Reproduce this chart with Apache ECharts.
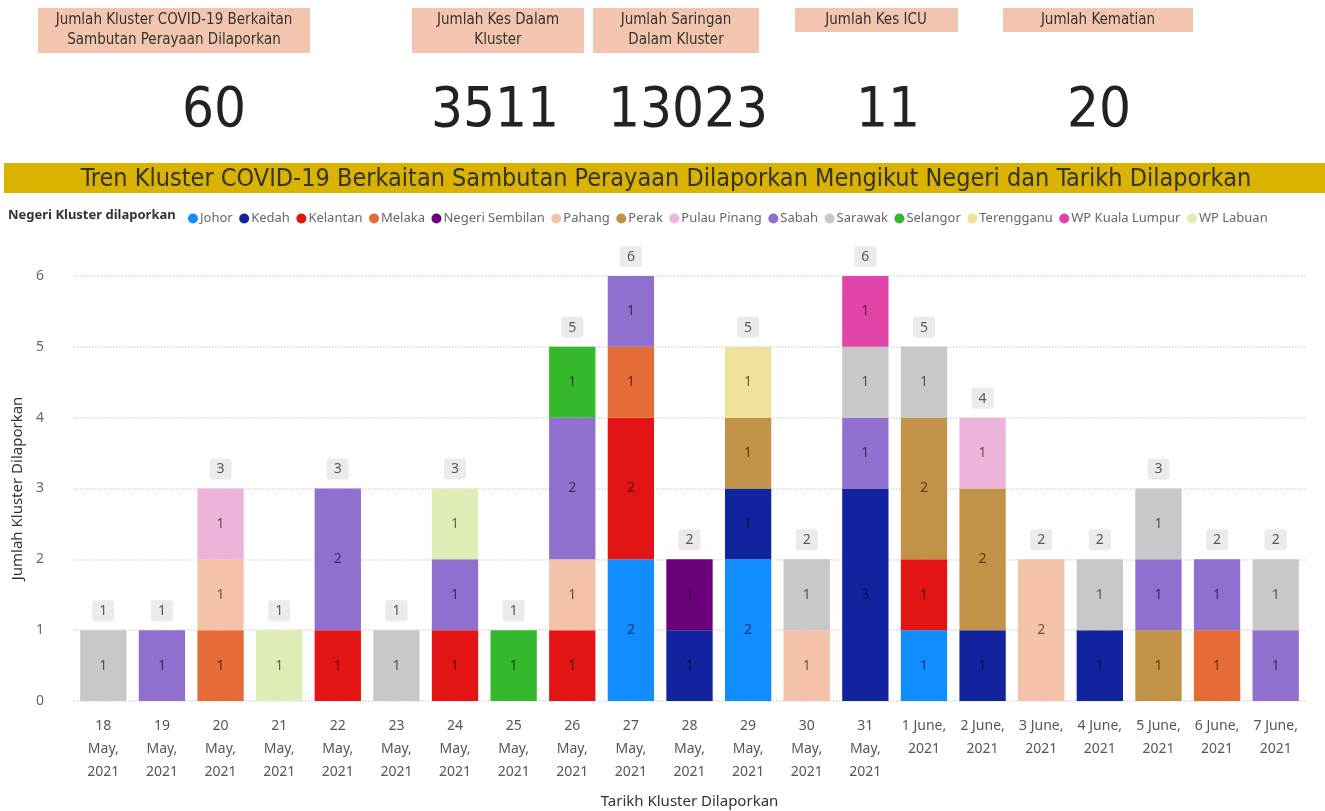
<!DOCTYPE html>
<html>
<head>
<meta charset="utf-8">
<script src="https://cdn.jsdelivr.net/npm/echarts@6/dist/echarts.min.js"></script>
<style>
html,body{margin:0;padding:0;background:#fff;}
#chart{width:1325px;height:811px;}
</style>
</head>
<body>
<div id="chart"></div>
<script>
// ---- data ----
const categories = ["18\nMay,\n2021","19\nMay,\n2021","20\nMay,\n2021","21\nMay,\n2021","22\nMay,\n2021","23\nMay,\n2021","24\nMay,\n2021","25\nMay,\n2021","26\nMay,\n2021","27\nMay,\n2021","28\nMay,\n2021","29\nMay,\n2021","30\nMay,\n2021","31\nMay,\n2021","1 June,\n2021","2 June,\n2021","3 June,\n2021","4 June,\n2021","5 June,\n2021","6 June,\n2021","7 June,\n2021"];
const seriesNames = ["Johor","Kedah","Kelantan","Melaka","Negeri Sembilan","Pahang","Perak","Pulau Pinang","Sabah","Sarawak","Selangor","Terengganu","WP Kuala Lumpur","WP Labuan"];
const johor        = [0,0,0,0,0,0,0,0,0,2,0,2,0,0,1,0,0,0,0,0,0];
const kedah        = [0,0,0,0,0,0,0,0,0,0,1,1,0,3,0,1,0,1,0,0,0];
const kelantan     = [0,0,0,0,1,0,1,0,1,2,0,0,0,0,1,0,0,0,0,0,0];
const melaka       = [0,0,1,0,0,0,0,0,0,1,0,0,0,0,0,0,0,0,0,1,0];
const negeriSembilan=[0,0,0,0,0,0,0,0,0,0,1,0,0,0,0,0,0,0,0,0,0];
const pahang       = [0,0,1,0,0,0,0,0,1,0,0,0,1,0,0,0,2,0,0,0,0];
const perak        = [0,0,0,0,0,0,0,0,0,0,0,1,0,0,2,2,0,0,1,0,0];
const pulauPinang  = [0,0,1,0,0,0,0,0,0,0,0,0,0,0,0,1,0,0,0,0,0];
const sabah        = [0,1,0,0,2,0,1,0,2,1,0,0,0,1,0,0,0,0,1,1,1];
const sarawak      = [1,0,0,0,0,1,0,0,0,0,0,0,1,1,1,0,0,1,1,0,1];
const selangor     = [0,0,0,0,0,0,0,1,1,0,0,0,0,0,0,0,0,0,0,0,0];
const terengganu   = [0,0,0,0,0,0,0,0,0,0,0,1,0,0,0,0,0,0,0,0,0];
const wpKualaLumpur= [0,0,0,0,0,0,0,0,0,0,0,0,0,1,0,0,0,0,0,0,0];
const wpLabuan     = [0,0,0,1,0,0,1,0,0,0,0,0,0,0,0,0,0,0,0,0,0];
const kpiLabels = ["Jumlah Kluster COVID-19 Berkaitan\nSambutan Perayaan Dilaporkan","Jumlah Kes Dalam\nKluster","Jumlah Saringan\nDalam Kluster","Jumlah Kes ICU","Jumlah Kematian"];
const kpiValues = ["60","3511","13023","11","20"];
const yTicks = [0,1,2,3,4,5,6];

// ---- styles ----
const allValues = [johor,kedah,kelantan,melaka,negeriSembilan,pahang,perak,pulauPinang,sabah,sarawak,selangor,terengganu,wpKualaLumpur,wpLabuan];
const colors = ["#118DFF","#12239E","#E31414","#E66C37","#6B007B","#F4C2A9","#C39249","#EEB3D9","#9070CE","#C8C8C8","#35B82B","#F2E09D","#E044A7","#DEEDB6"];
const narrow = "'Liberation Sans Narrow','DejaVu Sans Condensed',sans-serif";
const uiFont = "'Noto Sans','Open Sans',sans-serif";

const totals = categories.map((c,i)=>allValues.reduce((s,a)=>s+a[i],0));

const series = seriesNames.map((n,k)=>({
  name:n, type:'bar', stack:'all', barCategoryGap:'21%',
  itemStyle:{color:colors[k]},
  data: allValues[k].map(v=>v===0?null:v),
  label:{show:true, position:'inside', color:'rgba(0,0,0,0.6)', fontSize:14, fontFamily:uiFont}
}));
series.push({
  name:'Total', type:'scatter', symbolSize:0, data:totals, silent:true,
  label:{show:true, position:'top', distance:9, formatter:p=>p.value, backgroundColor:'#E6E6E6',
    borderRadius:3, padding:[4,7,3,7], color:'#333', fontSize:14, fontFamily:uiFont}
});

// KPI cards
const cards = [
  {x:38,w:272,h:45,cx:174,vx:214},
  {x:412,w:172,h:45,cx:498,vx:495},
  {x:593,w:166,h:45,cx:676,vx:688},
  {x:795,w:163,h:24,cx:876,vx:888},
  {x:1003,w:190,h:24,cx:1098,vx:1099}
];
const graphics = [];
cards.forEach((c,i)=>{
  graphics.push({type:'rect', shape:{x:c.x,y:8,width:c.w,height:c.h}, style:{fill:'#F3C4AE'}});
  graphics.push({type:'text', x:c.cx, y:8+c.h/2, style:{text:kpiLabels[i], align:'center', verticalAlign:'middle',
    font:"15px "+narrow, fill:'#333', lineHeight:20}});
  graphics.push({type:'text', x:c.vx, y:111, style:{text:kpiValues[i], align:'center', verticalAlign:'middle',
    font:"56px "+narrow, fill:'#222'}});
});
graphics.push({type:'rect', shape:{x:4,y:163,width:1321,height:30}, style:{fill:'#DAB200'}});
graphics.push({type:'text', x:666, y:179, style:{text:'Tren Kluster COVID-19 Berkaitan Sambutan Perayaan Dilaporkan Mengikut Negeri dan Tarikh Dilaporkan',
  align:'center', verticalAlign:'middle', font:"25px "+narrow, fill:'#333'}});
graphics.push({type:'text', x:8, y:215, style:{text:'Negeri Kluster dilaporkan', align:'left', verticalAlign:'middle',
  font:"bold 13px "+uiFont, fill:'#333'}});

const chart = echarts.init(document.getElementById('chart'));
chart.setOption({
  animation:false,
  textStyle:{fontFamily:uiFont},
  graphic:graphics,
  legend:{data:seriesNames, left:183, top:207, icon:'circle', itemWidth:10, itemHeight:10, itemGap:6.5,
    textStyle:{fontSize:13, color:'#666', fontFamily:uiFont, padding:[0,0,0,-3]}},
  grid:{left:74, right:20, top:276, bottom:110, outerBoundsMode:'none', containLabel:false},
  xAxis:{type:'category', data:categories, axisLine:{show:false}, axisTick:{show:false},
    axisLabel:{fontSize:14, color:'#555', lineHeight:23, margin:14, interval:0},
    name:'Tarikh Kluster Dilaporkan', nameLocation:'middle', nameGap:93,
    nameTextStyle:{fontSize:15, color:'#333'}},
  yAxis:{type:'value', min:0, max:6, interval:1, axisLine:{show:false}, axisTick:{show:false},
    axisLabel:{fontSize:14, color:'#666', margin:30, formatter:v=>yTicks.includes(v)?String(v):''},
    splitLine:{show:true, lineStyle:{type:'dotted', color:'#d8d8d8', width:1.5}},
    name:'Jumlah Kluster Dilaporkan', nameLocation:'middle', nameGap:44, nameRotate:90,
    nameTextStyle:{fontSize:15, color:'#333'}},
  series:series
});
</script>
</body>
</html>
